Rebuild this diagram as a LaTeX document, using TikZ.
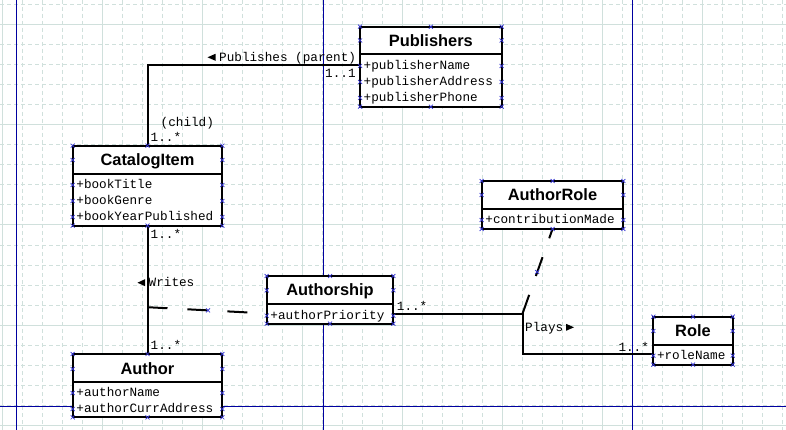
\documentclass[tikz,border=0pt]{standalone}
\usepackage{fontspec}
\newfontfamily\ttl{Liberation Sans}
\newfontfamily\mno{Liberation Mono}
\definecolor{gridc}{RGB}{208,224,220}
\definecolor{pagec}{RGB}{0,0,160}
\definecolor{markc}{RGB}{50,50,210}
\newcommand\boxmarks[6]{%
  \foreach \xx in {#1,#2,#3} {\pic at (\xx,#4) {xm}; \pic at (\xx,#5) {xm};}
  \foreach \yy in {#6} {\pic at (#1,\yy) {xm}; \pic at (#3,\yy) {xm};}
}
\begin{document}
\begin{tikzpicture}[x=1pt,y=-1pt,
  gridd/.style={draw=gridc, line width=1pt, dash pattern=on 4pt off 3pt},
  grids/.style={draw=gridc, line width=1pt},
  pageline/.style={draw=pagec, line width=1pt},
  classbox/.style={draw=black, fill=white, line width=2pt, inner sep=0pt, outer sep=0pt, anchor=north west},
  sepline/.style={line width=2pt},
  ttlnode/.style={font=\ttl\bfseries\fontsize{16.4}{18}\selectfont, inner sep=0pt, anchor=base},
  attr/.style={font=\mno\fontsize{12.67}{14}\selectfont, inner sep=0pt, anchor=base west},
  assoc/.style={line width=2pt, draw=black},
  aclass/.style={line width=2pt, draw=black, dash pattern=on 20pt off 20pt},
  xm/.pic={\draw[draw=markc, line width=0.7pt] (-2,-2)--(2,2) (-2,2)--(2,-2);}
]
\useasboundingbox (0,0) rectangle (786,430);
\fill[white] (0,0) rectangle (786,430);
% grid
\foreach \x in {2,22,...,782} \draw[gridd] (\x,0) -- (\x,430);
\foreach \y in {5,25,...,425} \draw[gridd] (0,\y) -- (786,\y);
\foreach \x in {2,102,...,702} \draw[grids] (\x,0) -- (\x,430);
\foreach \y in {25,125,...,425} \draw[grids] (0,\y) -- (786,\y);
% page lines
\foreach \x in {16,323,632} \draw[pageline] (\x,0) -- (\x,430);
\draw[pageline] (0,406) -- (786,406);

% class boxes
\node[classbox, minimum width=141.7pt, minimum height=80pt] (pub) at (360,26.7) {};
\node[classbox, minimum width=149.6pt, minimum height=80pt] (cat) at (72.7,145.7) {};
\node[classbox, minimum width=149.6pt, minimum height=63.3pt] (auth) at (72.7,354) {};
\node[classbox, minimum width=126.6pt, minimum height=47.7pt] (aship) at (266.7,276) {};
\node[classbox, minimum width=141.6pt, minimum height=48pt] (arole) at (481.7,181) {};
\node[classbox, minimum width=79.4pt, minimum height=48pt] (role) at (653.3,316.7) {};

% separators
\draw[sepline] (360,54.3) -- (501.7,54.3);
\draw[sepline] (72.7,173.7) -- (222.3,173.7);
\draw[sepline] (72.7,382.3) -- (222.3,382.3);
\draw[sepline] (266.7,303.7) -- (393.3,303.7);
\draw[sepline] (481.7,209) -- (623.3,209);
\draw[sepline] (653.3,344.7) -- (732.7,344.7);

% connectors
\coordinate (j1) at (522.5,313.7);
\coordinate (j2) at (522.5,354.2);
\coordinate (wj) at (147.5,307.2);
\draw[assoc] (cat.north) |- ([yshift=1.7pt]pub.west);
\draw[assoc] (cat.south) -- (auth.north);
\draw[assoc] (aship.east |- j1) -- (j1) -- (j2) -- (role.west |- j2);
\draw[aclass] (wj) -- ([yshift=-13.6pt]aship.west);
\draw[aclass] (j1) -- (arole.south);

% titles
\node[ttlnode] (pubT) at (430.85,46.3) {Publishers};
\node[ttlnode] (catT) at (147.5,165.5) {CatalogItem};
\node[ttlnode] (authT) at (147.5,374) {Author};
\node[ttlnode] (ashT) at (330,295.7) {Authorship};
\node[ttlnode] (arT) at (552.5,200.8) {AuthorRole};
\node[ttlnode] (roleT) at (693,336.5) {Role};

% attributes
\node[attr] (pa1) at (363.5,69.5) {+publisherName};
\node[attr] (pa2) at (363.5,85.5) {+publisherAddress};
\node[attr] (pa3) at (363.5,101.5) {+publisherPhone};
\node[attr] (ca1) at (76.2,188.5) {+bookTitle};
\node[attr] (ca2) at (76.2,204.5) {+bookGenre};
\node[attr] (ca3) at (76.2,220.5) {+bookYearPublished};
\node[attr] (aa1) at (76.2,396.7) {+authorName};
\node[attr] (aa2) at (76.2,412.7) {+authorCurrAddress};
\node[attr] (sa1) at (270.2,319.2) {+authorPriority};
\node[attr] (ra1) at (485.2,223.5) {+contributionMade};
\node[attr] (oa1) at (656.8,359.2) {+roleName};

% association labels
\node[attr] (lpub) at (219,61.5) {Publishes (parent)};
\node[attr] (lpm) at (325,77.5) {1..1};
\node[attr] (lch) at (160.5,126.5) {(child)};
\node[attr] (lcm) at (150.5,142) {1..*};
\node[attr] (lwm1) at (150.5,238.5) {1..*};
\node[attr] (lwr) at (148.5,286.7) {Writes};
\node[attr] (lwm2) at (150.5,349.3) {1..*};
\node[attr] (lpm1) at (396.7,310.7) {1..*};
\node[attr] (lpl) at (525,331.7) {Plays};
\node[attr] (lpm2) at (618.3,351.7) {1..*};

% direction triangles
\fill (207.5,57.3) -- (215.5,53.8) -- (215.5,60.8) -- cycle;
\fill (137.5,282.7) -- (145,279.2) -- (145,286.2) -- cycle;
\fill (574,327.3) -- (566,323.8) -- (566,330.8) -- cycle;

% selection markers
\boxmarks{360}{430.85}{501.7}{26.7}{106.7}{40.5,66,82,98}
\boxmarks{72.7}{147.5}{222.3}{145.7}{225.7}{160,185,201,217}
\boxmarks{72.7}{147.5}{222.3}{354}{417.3}{369,393,409}
\boxmarks{266.7}{330}{393.3}{276}{323.7}{290.3,315.7}
\boxmarks{481.7}{552.5}{623.3}{181}{229}{195,220}
\boxmarks{653.3}{693}{732.7}{316.7}{364.7}{331,355.7}
\pic at (208,310.3) {xm};
\pic at (537,272) {xm};
\end{tikzpicture}
\end{document}
